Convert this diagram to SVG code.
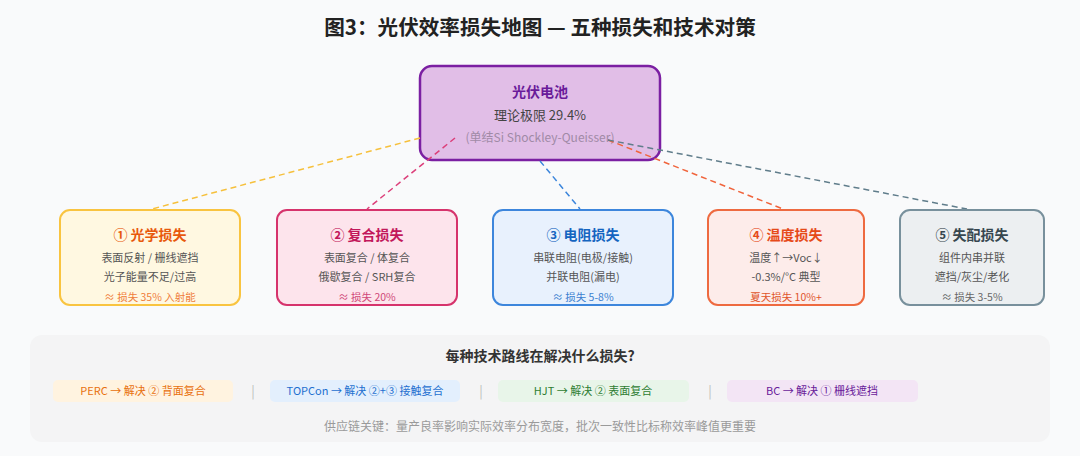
<svg xmlns="http://www.w3.org/2000/svg" width="1080" height="456" viewBox="0 0 1080 456">
<style>
text{font-family:"Noto Sans CJK SC","Noto Sans",sans-serif;text-anchor:middle}
.t{font-size:20.6px;font-weight:700;fill:#222}
.nt{font-size:14px;font-weight:700}
.b{font-size:11px;fill:#555}
.s{font-size:10.5px}
.c{fill:none;stroke-width:1.5;stroke-dasharray:6 4}
.box{stroke-width:2}
.pill{font-size:11px}
.sep{font-size:13px;fill:#bbb}
</style>
<rect width="1080" height="456" fill="#f9fafb"/>
<text class="t" x="540" y="35">图3：光伏效率损失地图 — 五种损失和技术对策</text>

<g id="top">
<rect x="420" y="66" width="240" height="94" rx="12" fill="#e1bee7" stroke="#7b1fa2" stroke-width="2.5"/>
<text x="540" y="97" class="nt" fill="#6a1b9a">光伏电池</text>
<text x="540" y="120" style="font-size:13px" fill="#444">理论极限 29.4%</text>
<text x="540" y="142" style="font-size:12px" fill="#a08aa6">(单结Si Shockley-Queisser)</text>
</g>

<g id="connectors">
<line class="c" x1="420" y1="138" x2="152" y2="209" stroke="#f6c03c"/>
<line class="c" x1="455" y1="138" x2="367" y2="209" stroke="#dc3f7a"/>
<line class="c" x1="540" y1="161" x2="580" y2="209" stroke="#3d86dc"/>
<line class="c" x1="608" y1="140" x2="783" y2="209" stroke="#f0643c"/>
<line class="c" x1="608" y1="140" x2="967" y2="209" stroke="#607d8b"/>
</g>

<g id="n1">
<rect class="box" x="60" y="210" width="180" height="95" rx="10" fill="#fff8e1" stroke="#f9c440"/>
<text x="150" y="240" class="nt" fill="#e8590c">① 光学损失</text>
<text x="150" y="262" class="b">表面反射 / 栅线遮挡</text>
<text x="150" y="281" class="b">光子能量不足/过高</text>
<text x="150" y="301" class="s" fill="#ef7d3a">≈ 损失 35% 入射能</text>
</g>
<g id="n2">
<rect class="box" x="277" y="210" width="180" height="95" rx="10" fill="#fde4ec" stroke="#d6336c"/>
<text x="367" y="240" class="nt" fill="#c2185b">② 复合损失</text>
<text x="367" y="262" class="b">表面复合 / 体复合</text>
<text x="367" y="281" class="b">俄歇复合 / SRH复合</text>
<text x="367" y="301" class="s" fill="#d04878">≈ 损失 20%</text>
</g>
<g id="n3">
<rect class="box" x="493" y="210" width="180" height="95" rx="10" fill="#e8f1fd" stroke="#3d86dc"/>
<text x="583" y="240" class="nt" fill="#1565c0">③ 电阻损失</text>
<text x="583" y="262" class="b">串联电阻(电极/接触)</text>
<text x="583" y="281" class="b">并联电阻(漏电)</text>
<text x="583" y="301" class="s" fill="#3b7fd0">≈ 损失 5-8%</text>
</g>
<g id="n4">
<rect class="box" x="708" y="210" width="156" height="95" rx="10" fill="#fdecea" stroke="#ee6a40"/>
<text x="786" y="240" class="nt" fill="#e64a19">④ 温度损失</text>
<text x="786" y="262" class="b">温度↑→Voc↓</text>
<text x="786" y="281" class="b">-0.3%/°C 典型</text>
<text x="786" y="301" class="s" fill="#e0552a">夏天损失 10%+</text>
</g>
<g id="n5">
<rect class="box" x="900" y="210" width="144" height="95" rx="10" fill="#eceff1" stroke="#78909c"/>
<text x="972" y="240" class="nt" fill="#37474f">⑤ 失配损失</text>
<text x="972" y="262" class="b">组件内串并联</text>
<text x="972" y="281" class="b">遮挡/灰尘/老化</text>
<text x="972" y="301" class="s" fill="#666">≈ 损失 3-5%</text>
</g>

<g id="panel">
<rect x="30" y="335" width="1020" height="107" rx="12" fill="#f4f4f5"/>
<text x="540" y="361" style="font-size:14px;font-weight:700" fill="#333">每种技术路线在解决什么损失?</text>
<rect x="53" y="380" width="180" height="22" rx="5" fill="#fff3e0"/>
<text x="143" y="395" class="pill" fill="#e8700c">PERC → 解决 ② 背面复合</text>
<text x="253" y="396" class="sep">|</text>
<rect x="270" y="380" width="190" height="22" rx="5" fill="#e3effd"/>
<text x="365" y="395" class="pill" fill="#1e6fd0">TOPCon → 解决 ②+③ 接触复合</text>
<text x="481" y="396" class="sep">|</text>
<rect x="498" y="380" width="191" height="22" rx="5" fill="#e8f5e9"/>
<text x="593" y="395" class="pill" fill="#2e7d32">HJT → 解决 ② 表面复合</text>
<text x="710" y="396" class="sep">|</text>
<rect x="727" y="380" width="191" height="22" rx="5" fill="#f3e5f5"/>
<text x="822" y="395" class="pill" fill="#6a1b9a">BC → 解决 ① 栅线遮挡</text>
<text x="540" y="431" style="font-size:12px" fill="#9a9a9a">供应链关键：量产良率影响实际效率分布宽度，批次一致性比标称效率峰值更重要</text>
</g>
</svg>
